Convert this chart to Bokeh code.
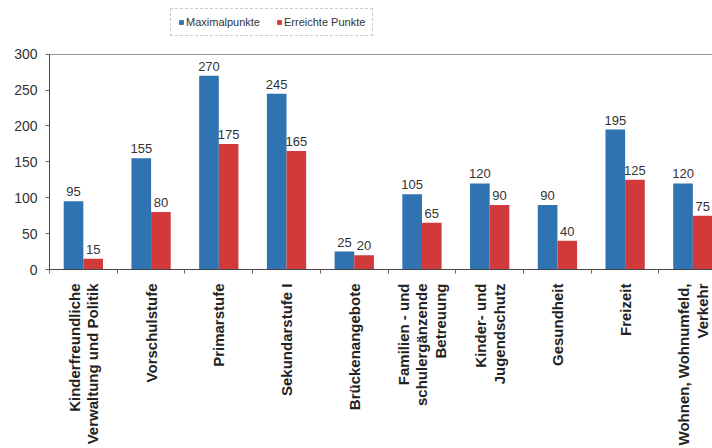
import math
from bokeh.plotting import figure
from bokeh.layouts import column
from bokeh.models import (ColumnDataSource, Range1d, FixedTicker, Legend, LegendItem)
from bokeh.core.properties import value
from bokeh.embed import file_html
from bokeh.resources import INLINE

categories = [
    "Kinderfreundliche\nVerwaltung und Politik",
    "Vorschulstufe",
    "Primarstufe",
    "Sekundarstufe I",
    "Brückenangebote",
    "Familien - und\nschulergänzende\nBetreuung",
    "Kinder- und\nJugendschutz",
    "Gesundheit",
    "Freizeit",
    "Wohnen, Wohnumfeld,\nVerkehr",
]
maximalpunkte = [95, 155, 270, 245, 25, 105, 120, 90, 195, 120]
erreichte_punkte = [15, 80, 175, 165, 20, 65, 90, 40, 125, 75]
y_ticks = [0, 50, 100, 150, 200, 250, 300]
series_names = ["Maximalpunkte", "Erreichte Punkte"]

BLUE = "#2F73B3"
RED = "#D2393A"
FONT = "Liberation Sans"

xs = list(range(len(categories)))
bw = 0.29
src = ColumnDataSource(dict(
    xb=[x - bw / 2 for x in xs],
    xr=[x + bw / 2 for x in xs],
    maxv=maximalpunkte,
    errv=erreichte_punkte,
    maxt=[str(v) for v in maximalpunkte],
    errt=[str(v) for v in erreichte_punkte],
))

# ---- main chart ----
p = figure(width=712, height=408, output_backend="svg", toolbar_location=None,
           x_range=Range1d(-0.5, 9.29), y_range=Range1d(0, 301),
           min_border_left=49, min_border_right=0, min_border_top=13,
           min_border_bottom=179)
p.outline_line_color = None

p.vbar(x="xb", top="maxv", width=bw, source=src, fill_color=BLUE, line_color=None)
p.vbar(x="xr", top="errv", width=bw, source=src, fill_color=RED, line_color=None)

p.text(x="xb", y="maxv", text="maxt", source=src,
       text_align="center", text_baseline="bottom", y_offset=-5,
       text_font=value(FONT), text_font_size="13px", text_color="#333333")
p.text(x="xr", y="errv", text="errt", source=src,
       text_align="center", text_baseline="bottom", y_offset=-5,
       text_font=value(FONT), text_font_size="13px", text_color="#333333")

p.xgrid.grid_line_color = None
p.ygrid.ticker = FixedTicker(ticks=[300])
p.ygrid.grid_line_color = "#999999"

p.yaxis.ticker = FixedTicker(ticks=y_ticks)
p.yaxis.bounds = (0, 300)
p.yaxis.major_label_text_font = FONT
p.yaxis.major_label_text_font_size = "14px"
p.yaxis.major_label_text_color = "#333333"
p.yaxis.axis_line_color = "#444444"
p.yaxis.major_tick_line_color = "#666666"
p.yaxis.major_tick_in = 0
p.yaxis.major_tick_out = 4
p.yaxis.major_label_standoff = 8
p.yaxis.minor_tick_line_color = None

p.xaxis.ticker = FixedTicker(ticks=xs, minor_ticks=[i - 0.5 for i in range(len(categories) + 1)])
p.xaxis.major_label_overrides = {i: c for i, c in enumerate(categories)}
p.xaxis.major_label_orientation = math.pi / 2
p.xaxis.major_label_text_font = FONT
p.xaxis.major_label_text_font_size = "15px"
p.xaxis.major_label_text_font_style = "bold"
p.xaxis.major_label_text_color = "#222222"
p.xaxis.major_label_text_line_height = 1.1
p.xaxis.major_tick_line_color = None
p.xaxis.minor_tick_line_color = "#666666"
p.xaxis.minor_tick_in = 0
p.xaxis.minor_tick_out = 4
p.xaxis.axis_line_color = "#444444"
p.xaxis.major_label_standoff = 8

# ---- legend strip (legend proxies drawn from the same data, kept out of view) ----
lg = figure(width=712, height=40, output_backend="svg", toolbar_location=None,
            x_axis_location=None, y_axis_location=None,
            x_range=Range1d(-1000, -999), y_range=Range1d(0, 1), min_border=0)
lg.outline_line_color = None
lg.grid.visible = False
d1 = lg.vbar(x="xb", top="maxv", width=bw, source=src, fill_color=BLUE, line_color=None)
d2 = lg.vbar(x="xr", top="errv", width=bw, source=src, fill_color=RED, line_color=None)
legend = Legend(items=[LegendItem(label=series_names[0], renderers=[d1]),
                       LegendItem(label=series_names[1], renderers=[d2])],
                orientation="horizontal", location=(121, 4))
legend.label_text_font = FONT
legend.label_text_font_size = "11px"
legend.label_text_color = "#333333"
legend.glyph_width = 6
legend.glyph_height = 6
legend.label_standoff = 2
legend.spacing = 16
legend.padding = 7
legend.margin = 0
legend.border_line_color = "#999999"
legend.border_line_dash = "2 2"
legend.label_height = 12
lg.add_layout(legend)

layout = column(lg, p, spacing=0)
open("out.html", "w").write(file_html(layout, INLINE))
